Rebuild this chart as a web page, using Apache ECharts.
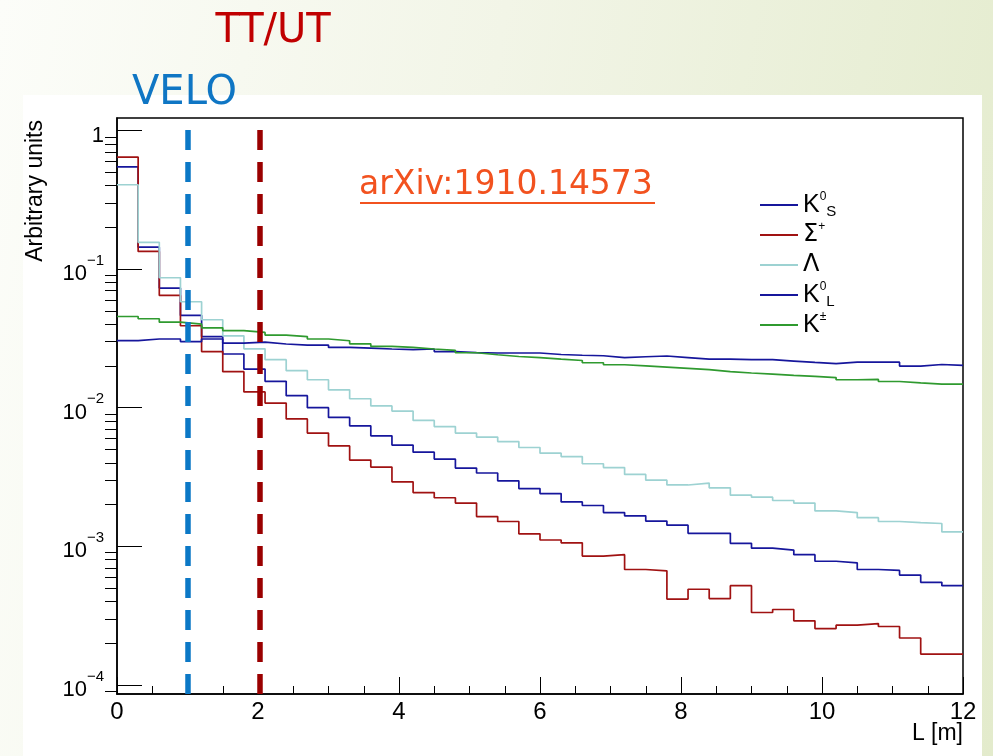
<!DOCTYPE html>
<html>
<head>
<meta charset="utf-8">
<title>Decay length of long-lived strange hadrons</title>
<script src="https://cdn.jsdelivr.net/npm/echarts@6.0.0/dist/echarts.min.js"></script>
<style>
  html, body {
    margin: 0;
    padding: 0;
    width: 993px;
    height: 756px;
    overflow: hidden;
    background: linear-gradient(100deg, #fcfdf9 0%, #f2f5e7 45%, #e3ebcc 100%);
  }
  #panel { position: absolute; left: 23px; top: 95px; width: 959px; height: 661px; background: #fff; }
  #chart { position: absolute; left: 0; top: 0; width: 993px; height: 756px; }
</style>
</head>
<body>
<div id="panel"></div>
<div id="chart"></div>
<script>
/* ------------------------------------------------------------------ */
/*  Data: 40 bins of 0.3 m between 0 and 12 m                          */
/* ------------------------------------------------------------------ */

const binEdges = Array.from({ length: 41 }, (_, i) => +(i * 0.3).toFixed(1));

const kShort = [
  0.547, 0.144, 0.0729, 0.0463, 0.0326, 0.0244, 0.019, 0.0155, 0.0122, 0.0100,
  0.0085, 0.0074, 0.00627, 0.00537, 0.00478, 0.00426, 0.00367, 0.00338, 0.00297, 0.00261,
  0.0024, 0.00209, 0.00197, 0.00175, 0.00166, 0.00152, 0.00142, 0.00124, 0.00124, 0.00105,
  0.00097, 0.00094, 0.00087, 0.00078, 0.00076, 0.00068, 0.00067, 0.00062, 0.00055, 0.00052
];

const sigmaPlus = [
  0.643, 0.134, 0.0645, 0.039, 0.0254, 0.0182, 0.013, 0.0108, 0.0083, 0.00656,
  0.0053, 0.00419, 0.00373, 0.00292, 0.00244, 0.00224, 0.00205, 0.00164, 0.00151, 0.00123,
  0.00111, 0.00106, 0.00085, 0.00087, 0.00068, 0.000665, 0.000416, 0.00049, 0.00042, 0.00052,
  0.000333, 0.00035, 0.00029, 0.000255, 0.00027, 0.000277, 0.000264, 0.000218, 0.000167, 0.000167
];

const lambda = [
  0.406, 0.156, 0.0866, 0.0581, 0.0431, 0.033, 0.0266, 0.0222, 0.0185, 0.0159,
  0.01346, 0.0116, 0.0103, 0.00945, 0.00809, 0.00731, 0.00656, 0.00614, 0.0057, 0.00516,
  0.0047, 0.00444, 0.00394, 0.0037, 0.0033, 0.0030, 0.00277, 0.00286, 0.00264, 0.00234,
  0.00226, 0.00214, 0.00205, 0.0018, 0.00175, 0.00161, 0.00151, 0.00148, 0.00146, 0.00127
];

const kLong = [
  0.0305, 0.0313, 0.0313, 0.030, 0.0313, 0.0292, 0.0297, 0.0288, 0.0283, 0.0283,
  0.0272, 0.0269, 0.0265, 0.0262, 0.0265, 0.0254, 0.025, 0.0248, 0.0248, 0.0248,
  0.0242, 0.0239, 0.0237, 0.023, 0.0233, 0.0236, 0.023, 0.0224, 0.0224, 0.0222,
  0.0222, 0.0217, 0.0212, 0.0208, 0.0213, 0.0213, 0.0213, 0.01995, 0.0205, 0.0202
];

const kCharged = [
  0.0455, 0.0438, 0.0414, 0.0401, 0.0377, 0.036, 0.0349, 0.0334, 0.0326, 0.0313,
  0.0304, 0.0289, 0.0277, 0.0272, 0.0265, 0.0259, 0.0249, 0.0241, 0.0234, 0.023,
  0.0224, 0.0219, 0.0211, 0.0204, 0.02, 0.0196, 0.0192, 0.0188, 0.0182, 0.0178,
  0.01747, 0.0171, 0.0168, 0.0165, 0.0159, 0.016, 0.01545, 0.0151, 0.0148, 0.0148
];

/* Detector boundaries along L [m] */
const detectorNames = ['VELO', 'TT/UT'];
const detectorPositions = [1.0, 2.03];

/* Axis ranges and ticks */
const xRange = [0, 12];
const yRange = [8.6e-5, 1.23];
const yMajorTicks = [1e-4, 1e-3, 1e-2, 1e-1, 1];
const yMinorTicks = [1e-5, 1e-4, 1e-3, 1e-2, 1e-1]
  .flatMap((d) => [2, 3, 4, 5, 6, 7, 8, 9].map((m) => +(m * d).toPrecision(2)))
  .filter((v) => v >= yRange[0] && v <= yRange[1]);

/* ------------------------------------------------------------------ */
/*  Helpers                                                            */
/* ------------------------------------------------------------------ */

/** Histogram contents -> step points at left bin edges, closed at the last edge */
function toSteps(values) {
  const pts = values.map((v, i) => [binEdges[i], v]);
  pts.push([binEdges[values.length], values[values.length - 1]]);
  return pts;
}

const FONT = '"Liberation Sans", Arial, sans-serif';

const legendLabels = {
  'K0S': '{m|K}{sup|0}{sub|S}',
  'Sigma+': '{g|Σ}{sup|+}',
  'Lambda': '{g|Λ}',
  'K0L': '{m|K}{sup|0}{sub|L}',
  'K+-': '{m|K}{sup|±}'
};

function histSeries(name, values, color) {
  return {
    name,
    type: 'line',
    step: 'end',
    data: toSteps(values),
    showSymbol: false,
    symbol: 'none',
    color,
    lineStyle: { color, width: 1.7 },
    emphasis: { disabled: true },
    animation: false
  };
}

/* ------------------------------------------------------------------ */
/*  Chart                                                              */
/* ------------------------------------------------------------------ */

const chart = echarts.init(document.getElementById('chart'), null, { renderer: 'canvas' });

const series = [
  histSeries('K0S', kShort, '#16169c'),
  histSeries('Sigma+', sigmaPlus, '#a01212'),
  histSeries('Lambda', lambda, '#9dd2d2'),
  histSeries('K0L', kLong, '#16169c'),
  histSeries('K+-', kCharged, '#2f9a2f')
];

/* dashed detector markers, drawn over the histograms */
const detectorColors = ['#0b78c6', '#9a0000'];
const labelColors = ['#0f76c4', '#c00000'];
series[series.length - 1].markLine = {
  silent: true,
  symbol: ['none', 'none'],
  animation: false,
  data: detectorNames.map((name, i) => ({
    name,
    xAxis: detectorPositions[i],
    lineStyle: { color: detectorColors[i], width: 5.5, type: [20, 12] },
    label: {
      show: true,
      position: 'end',
      formatter: '{b}',
      color: labelColors[i],
      fontFamily: '"DejaVu Sans", sans-serif',
      fontSize: 40,
      distance: i === 0 ? 4 : 66,
      padding: i === 0 ? [0, 6, 0, 0] : [0, 0, 0, 26]
    }
  }))
};

const legendRich = {
  m: { fontSize: 25, lineHeight: 28, fontFamily: FONT, color: '#000' },
  g: { fontSize: 24, lineHeight: 28, fontFamily: '"DejaVu Sans", sans-serif', color: '#000' },
  sup: { fontSize: 12, lineHeight: 8, verticalAlign: 'top', fontFamily: FONT, color: '#000' },
  sub: { fontSize: 15, lineHeight: 8, verticalAlign: 'bottom', fontFamily: FONT, color: '#000' }
};

chart.setOption({
  backgroundColor: 'transparent',
  animation: false,
  textStyle: { fontFamily: FONT, color: '#000' },
  grid: {
    left: 117,
    right: 30,
    top: 118,
    bottom: 62,
    show: true,
    borderColor: '#000',
    borderWidth: 1.5,
    backgroundColor: 'transparent',
    containLabel: false,
    outerBoundsMode: 'none'
  },
  legend: {
    data: Object.keys(legendLabels),
    orient: 'vertical',
    left: 755,
    top: 186,
    itemWidth: 38,
    itemHeight: 2,
    itemGap: 2,
    icon: 'rect',
    selectedMode: false,
    formatter: (name) => legendLabels[name],
    textStyle: {
      color: '#000',
      fontFamily: FONT,
      fontSize: 25,
      lineHeight: 28,
      rich: legendRich
    }
  },
  xAxis: {
    type: 'value',
    min: xRange[0],
    max: xRange[1],
    interval: 2,
    name: 'L [m]',
    nameLocation: 'end',
    nameGap: 0,
    nameMoveOverlap: false,
    nameTextStyle: {
      fontFamily: FONT,
      fontSize: 23,
      color: '#000',
      align: 'right',
      verticalAlign: 'top',
      padding: [28, 0, 0, 0]
    },
    axisLine: { show: true, onZero: false, lineStyle: { color: '#000', width: 1.5 } },
    axisTick: { show: true, inside: true, length: 17, lineStyle: { color: '#000', width: 1 } },
    minorTick: { show: true, splitNumber: 4, length: 8, lineStyle: { color: '#000', width: 1 } },
    splitLine: { show: false },
    minorSplitLine: { show: false },
    axisLabel: { fontFamily: FONT, fontSize: 24, color: '#000', margin: 6 }
  },
  yAxis: [
    {
      type: 'log',
      logBase: 10,
      min: yRange[0],
      max: yRange[1],
      name: 'Arbitrary units',
      nameLocation: 'end',
      nameRotate: 90,
      nameGap: -2,
      nameMoveOverlap: false,
      nameTextStyle: {
        fontFamily: FONT,
        fontSize: 23,
        color: '#000',
        align: 'right',
        verticalAlign: 'bottom',
        padding: [0, 0, 70, 0]
      },
      axisLine: { show: true, onZero: false, lineStyle: { color: '#000', width: 1.5 } },
      axisTick: {
        show: true,
        inside: true,
        length: 25,
        customValues: yMajorTicks,
        lineStyle: { color: '#000', width: 1 }
      },
      splitLine: { show: false },
      axisLabel: {
        customValues: yMajorTicks,
        margin: 13,
        color: '#000',
        fontFamily: FONT,
        fontSize: 22,
        formatter: (val) => {
          const p = Math.round(Math.log10(val));
          return p === 0 ? '{b|1}' : '{b|10}{sup|−' + (-p) + '}';
        },
        rich: {
          b: { fontFamily: FONT, fontSize: 22, lineHeight: 32, verticalAlign: 'bottom', color: '#000' },
          sup: { fontFamily: FONT, fontSize: 15, lineHeight: 12, verticalAlign: 'top', color: '#000' }
        }
      }
    },
    {
      type: 'log',
      logBase: 10,
      min: yRange[0],
      max: yRange[1],
      axisLine: { show: false },
      axisLabel: { show: false },
      splitLine: { show: false },
      axisTick: {
        show: true,
        inside: true,
        length: 12,
        customValues: yMinorTicks,
        lineStyle: { color: '#000', width: 1 }
      }
    }
  ],
  graphic: [
    {
      type: 'text',
      left: 359,
      top: 169,
      silent: true,
      style: {
        text: 'arXiv:1910.14573',
        fill: '#f2521f',
        font: '33px "DejaVu Sans", sans-serif'
      }
    },
    {
      type: 'line',
      silent: true,
      shape: { x1: 360, y1: 203, x2: 655, y2: 203 },
      style: { stroke: '#f2521f', lineWidth: 2 }
    }
  ],
  series
});
</script>
</body>
</html>
